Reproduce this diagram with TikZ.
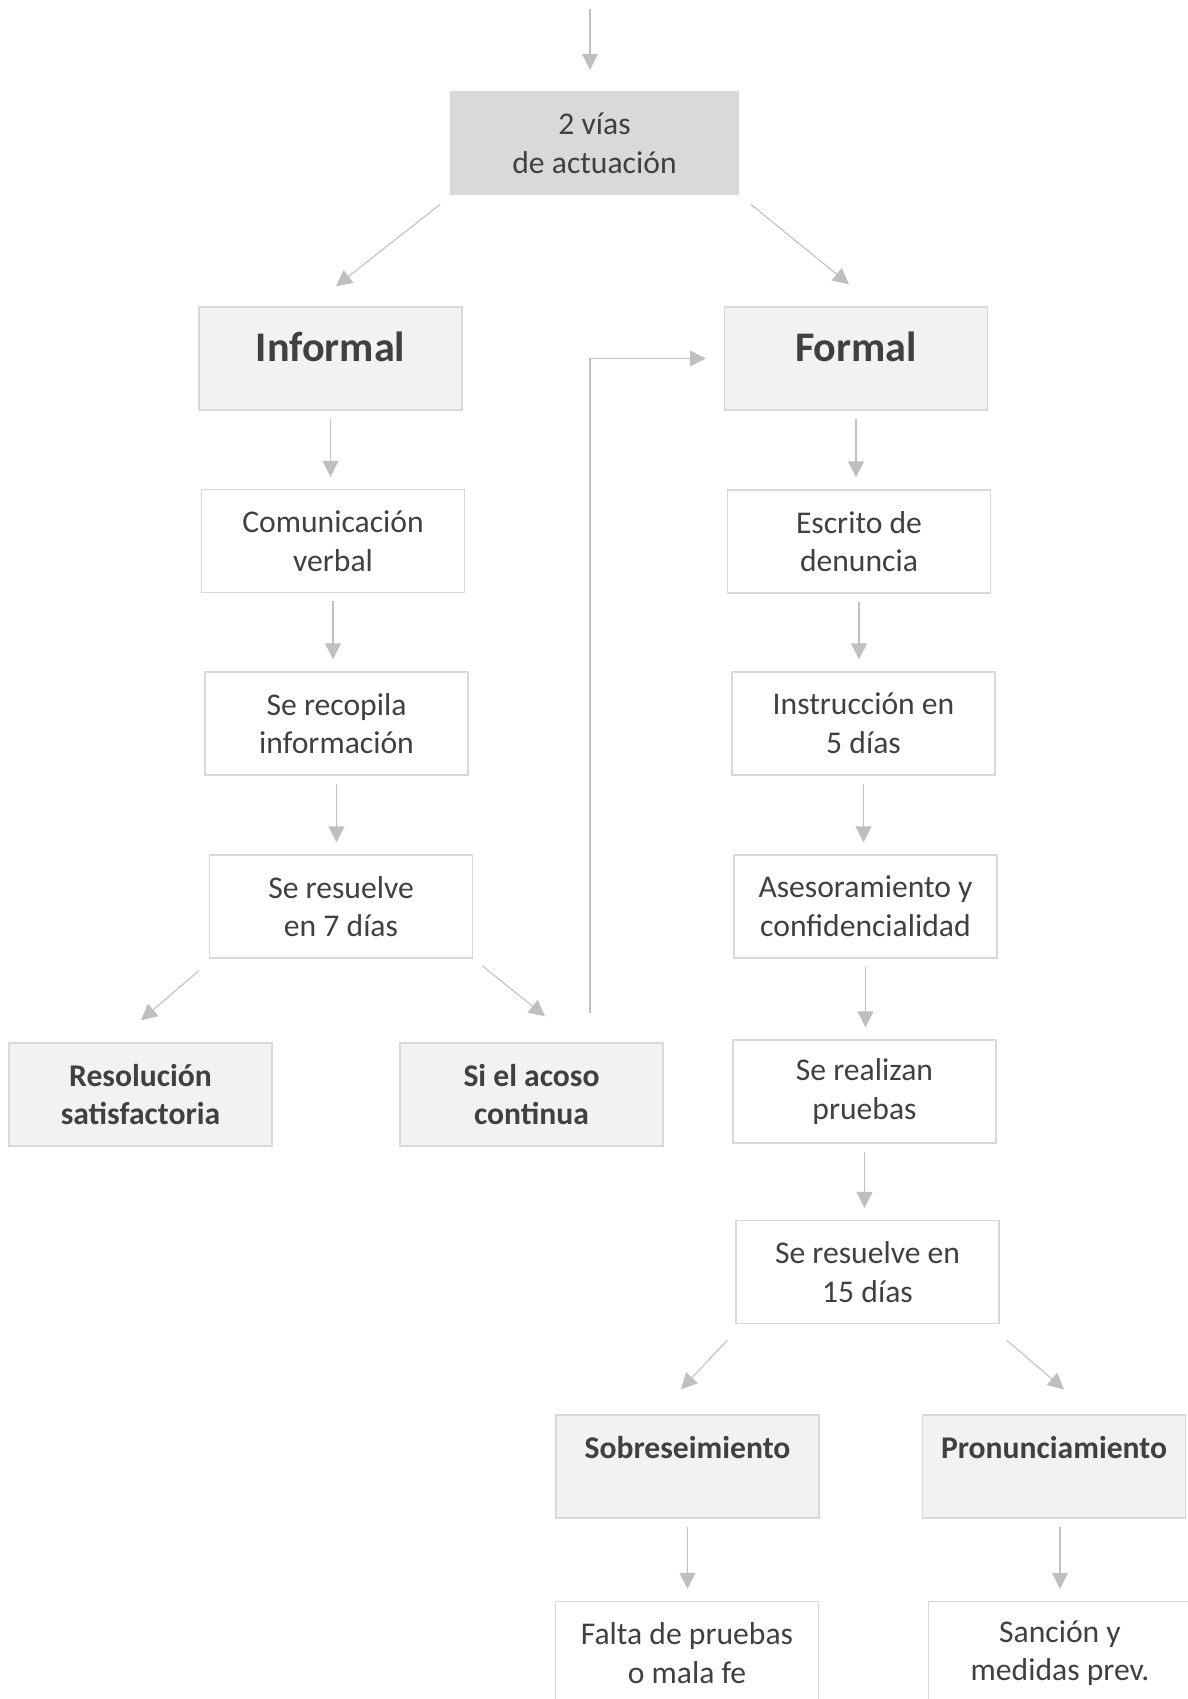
\documentclass[tikz,border=0pt]{standalone}
\usepackage{fontspec}
\setmainfont{Carlito}
\usetikzlibrary{calc, positioning, arrows.meta}
\definecolor{txtgray}{RGB}{64, 64, 64}
\definecolor{arrgray}{RGB}{191, 191, 191}
\definecolor{boxline}{RGB}{217, 217, 217}
\definecolor{boxfill}{RGB}{242, 242, 242}
\definecolor{topfill}{RGB}{217, 217, 217}

\begin{document}
\begin{tikzpicture}[x=0.02cm, y=-0.02cm, font=\fontsize{18}{22}\selectfont, text=txtgray,
  box/.style={draw=boxline, line width=0.8pt, fill=white, minimum width=5.26cm,
    minimum height=2.06cm, align=center, inner sep=0pt},
  greybox/.style={box, fill=boxfill, font=\fontsize{18}{22}\selectfont\bfseries},
  head/.style={greybox, font=\fontsize{24}{29}\selectfont\bfseries,
    text height=1.1cm, text depth=0.96cm},
  subhead/.style={greybox, text height=0.86cm, text depth=1.2cm},
  arr/.style={draw=arrgray, line width=0.6pt, -{Triangle[length=0.32cm, width=0.32cm]}},
  down/.style={arr, shorten <=0.16cm, shorten >=0.24cm}]
  \useasboundingbox (0,0) rectangle (1187,1699);

  % entrada y dos vias
  \coordinate (entry) at (590,9);
  \node[box, fill=topfill, draw=topfill, minimum width=5.74cm] (vias) at (594.5,143) {2 vías\\de actuación};
  \draw[arr, shorten >=0.42cm] (entry) -- (entry |- vias.north);

  % via informal
  \node[head] (informal) at (330.5,358.5) {Informal};
  \node[box] (comunic) at (333,541) {Comunicación\\verbal};
  \node[box] (recopila) at (336.5,723.5) {Se recopila\\información};
  \node[box] (resuelve7) at (341,906.5) {Se resuelve\\en 7 días};
  \node[greybox] (resolucion) at (140.5,1094.5) {Resolución\\satisfactoria};
  \node[greybox] (acoso) at (531.5,1094.5) {Si el acoso\\continua};

  % via formal
  \node[head] (formal) at (856,358.5) {Formal};
  \node[box] (escrito) at (859,541.5) {Escrito de\\denuncia};
  \node[box] (instruccion) at (863.5,723.5) {Instrucción en\\5 días};
  \node[box] (asesor) at (865.5,906.5) {Asesoramiento y\\confidencialidad};
  \node[box] (pruebas) at (864.5,1091.5) {Se realizan\\pruebas};
  \node[box] (resuelve15) at (867.5,1272) {Se resuelve en\\15 días};
  \node[subhead] (sobre) at (687.5,1466.5) {Sobreseimiento};
  \node[subhead] (pronun) at (1054,1466.5) {Pronunciamiento};
  \node[box] (falta) at (687,1653) {Falta de pruebas\\o mala fe};
  \node[box] (sancion) at (1060,1653) {Sanción y\\medidas prev.};

  % flechas
  \draw[arr] ($(vias.south west)+(-10,9)$) -- ($(informal.north)+(5.5,-20)$);
  \draw[arr] ($(vias.south east)+(12,9)$) -- ($(formal.north)+(-7,-22)$);
  \foreach \a/\b in {informal/comunic, comunic/recopila, recopila/resuelve7,
      formal/escrito, escrito/instruccion, instruccion/asesor, asesor/pruebas,
      pruebas/resuelve15, sobre/falta}
    \draw[down] (\a.south) -- (\a.south |- \b.north);
  \draw[down] (pronun.south -| sancion.north) -- (sancion.north);
  \draw[arr] ($(resuelve7.south west)+(-10,12)$) -- ($(resolucion.north)+(0.5,-22)$);
  \draw[arr] ($(resuelve7.south east)+(9,7)$) -- ($(acoso.north)+(13.5,-26)$);
  \draw[arr, shorten >=0.36cm] ($(acoso.north)+(58.5,-29)$) |- (formal.west);
  \draw[arr] ($(resuelve15.south west)+(-8,16)$) -- ($(sobre.north)+(-6.5,-25)$);
  \draw[arr] ($(resuelve15.south east)+(7,16)$) -- ($(pronun.north)+(10,-25)$);
\end{tikzpicture}
\end{document}
